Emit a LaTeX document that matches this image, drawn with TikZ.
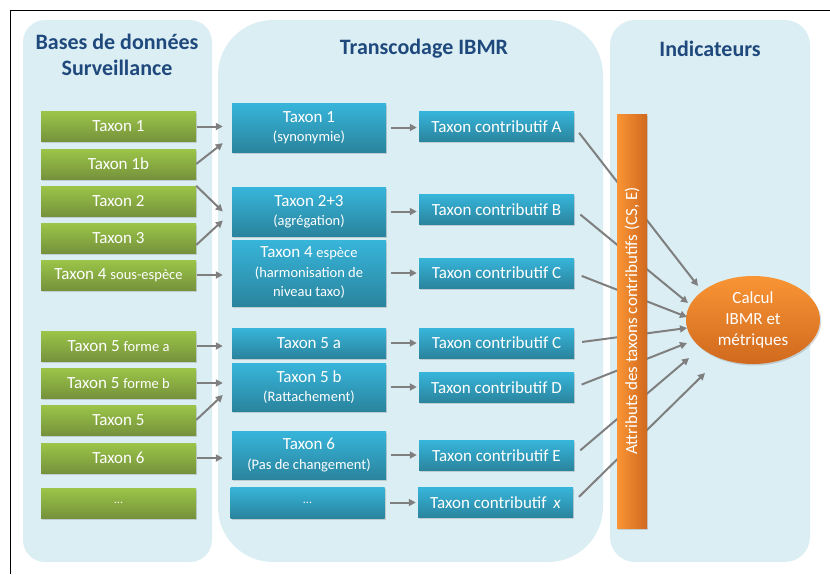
\documentclass[tikz,border=0pt]{standalone}
\usepackage{fontspec}
\setmainfont{Carlito}
\usetikzlibrary{arrows.meta,shadows,calc,shapes.geometric}

\definecolor{fond}{HTML}{DBEEF3}
\definecolor{titrebleu}{HTML}{1F497D}
\definecolor{verthaut}{HTML}{9BC548}
\definecolor{vertbas}{HTML}{76923C}
\definecolor{bleuhaut}{HTML}{37B5DA}
\definecolor{bleubas}{HTML}{2A849E}
\definecolor{orangeclair}{HTML}{F99535}
\definecolor{orangefonce}{HTML}{D0691E}
\definecolor{gris}{HTML}{7F7F7F}

\newcommand{\petit}[1]{{\fontsize{14.5}{16}\selectfont #1}}
\newcommand{\points}{{\fontsize{12}{14}\selectfont ...}}

\begin{document}
\begin{tikzpicture}[x=1pt, y=-1pt,
    panneau/.style={fill=fond, draw=none},
    titre/.style={text=titrebleu, align=center, font=\fontsize{22}{26}\selectfont\bfseries},
    boite/.style={minimum height=30pt, inner sep=0pt, text=white, align=center,
        font=\fontsize{17}{19.5}\selectfont,
        drop shadow={shadow xshift=1.2pt, shadow yshift=-1.5pt, opacity=0.3}},
    vert/.style={boite, top color=verthaut, bottom color=vertbas, minimum width=155pt},
    bleu/.style={boite, top color=bleuhaut, bottom color=bleubas, minimum width=154pt},
    fleche/.style={draw=gris, line width=2pt, -{Triangle[length=7pt,width=7pt]}},
    entree/.style={fleche, shorten <=1pt, shorten >=9pt},
    sortie/.style={fleche, shorten <=5pt, shorten >=2pt},
    ]
    \useasboundingbox (0,0) rectangle (830,574);
    \draw[line width=1pt] (830,10) -- (10,10) -- (10,574);

    % les trois panneaux
    \fill[panneau, rounded corners=22pt] (23,20) rectangle (212,562);
    \fill[panneau, rounded corners=55pt] (218,20) rectangle (603,562);
    \fill[panneau, rounded corners=25pt] (610,20) rectangle (810,562);

    \node[titre] (titrebases) at (117,55) {Bases de données\\Surveillance};
    \node[titre] (titretrans) at (424,49) {Transcodage IBMR};
    \node[titre] (titreind) at (710,49) {Indicateurs};

    % bases de donnees
    \node[vert] (t1) at (118.5,126.5) {Taxon 1};
    \node[vert] (t1b) at (118.5,164) {Taxon 1b};
    \node[vert] (t2) at (118.5,201) {Taxon 2};
    \node[vert] (t3) at (118.5,238) {Taxon 3};
    \node[vert] (t4) at (118.5,275) {Taxon 4 \petit{sous-espèce}};
    \node[vert] (t5a) at (118.5,346) {Taxon 5 \petit{forme a}};
    \node[vert] (t5b) at (118.5,383) {Taxon 5 \petit{forme b}};
    \node[vert] (t5) at (118.5,420) {Taxon 5};
    \node[vert] (t6) at (118.5,458) {Taxon 6};
    \node[vert] (tdots) at (118.5,503) {\points};

    % transcodage
    \node[bleu, minimum height=49pt] (m1) at (309,127.5) {Taxon 1\\\petit{(synonymie)}};
    \node[bleu, minimum height=49pt] (m23) at (309,211.5) {Taxon 2+3\\\petit{(agrégation)}};
    \node[bleu, minimum height=66pt] (m4) at (309,273) {Taxon 4 \petit{espèce}\\\petit{(harmonisation de}\\\petit{niveau taxo)}};
    \node[bleu] (m5a) at (309,343) {Taxon 5 a};
    \node[bleu, minimum height=48pt] (m5b) at (309,387) {Taxon 5 b\\\petit{(Rattachement)}};
    \node[bleu, minimum height=48pt] (m6) at (309,455) {Taxon 6\\\petit{(Pas de changement)}};
    \node[bleu, minimum height=31pt] (mdots) at (307.5,502.5) {\points};

    \node[bleu, minimum width=155pt] (rA) at (496.5,126.5) {Taxon contributif A};
    \node[bleu, minimum width=155pt] (rB) at (496.5,209.5) {Taxon contributif B};
    \node[bleu, minimum width=155pt] (rC1) at (496.5,273) {Taxon contributif C};
    \node[bleu, minimum width=155pt] (rC2) at (496.5,343) {Taxon contributif C};
    \node[bleu, minimum width=155pt] (rD) at (496.5,387.5) {Taxon contributif D};
    \node[bleu, minimum width=155pt] (rE) at (496.5,455.5) {Taxon contributif E};
    \node[bleu, minimum width=155pt] (rx) at (495.5,502.5) {Taxon contributif \,\textit{x}};

    % fleches vers le transcodage
    \draw[entree] (t1.east) -- (t1.east -| m1.west);
    \draw[fleche] (t1b.east) -- ($(m1.south west)+(-9,-9)$);
    \draw[fleche] (t2.north east) -- ($(m23.west)+(-9,0)$);
    \draw[fleche] ($(t3.east)+(0,7)$) -- ($(m23.west)+(-9,9)$);
    \draw[entree] (t4.east) -- (t4.east -| m4.west);
    \draw[entree] (t5a.east) -- (t5a.east -| m5a.west);
    \draw[entree] (t5b.east) -- (t5b.east -| m5b.west);
    \draw[fleche] (t5.east) -- ($(m5b.west)+(-9,8)$);
    \draw[entree] (t6.east) -- (t6.east -| m6.west);

    \draw[sortie] (m1.east) -- (m1.east -| rA.west);
    \draw[sortie] (m23.east) -- (m23.east -| rB.west);
    \draw[sortie] (m4.east) -- (m4.east -| rC1.west);
    \draw[sortie] (m5a.east) -- (m5a.east -| rC2.west);
    \draw[sortie] (m5b.east) -- (m5b.east -| rD.west);
    \draw[sortie] (m6.east) -- (m6.east -| rE.west);
    \draw[sortie] (mdots.east) -- (mdots.east -| rx.west);

    % indicateurs
    \node[ellipse, minimum width=134pt, minimum height=88pt, inner sep=0pt,
        top color=orangeclair, bottom color=orangefonce, text=white, align=center,
        font=\fontsize{17}{21}\selectfont,
        drop shadow={shadow xshift=1.2pt, shadow yshift=-1.5pt, opacity=0.3}]
        (calcul) at (753,320) {Calcul\\IBMR et\\métriques};

    \draw[fleche, shorten <=8pt] (rA.east) -- ($(calcul.center)+(-55,-34)$);
    \draw[fleche, shorten <=8pt] (rB.east) -- ($(calcul.center)+(-65,-17)$);
    \draw[fleche, shorten <=8pt] (rC1.east) -- ($(calcul.center)+(-66,-3)$);
    \draw[fleche, shorten <=8pt] (rC2.east) -- ($(calcul.center)+(-66,8)$);
    \draw[fleche, shorten <=8pt] (rD.east) -- ($(calcul.center)+(-66,23)$);
    \draw[fleche, shorten <=8pt] (rE.east) -- ($(calcul.center)+(-64,38)$);
    \draw[fleche, shorten <=8pt] (rx.east) -- ($(calcul.center)+(-48,53)$);

    \node[rotate=90, minimum width=414pt, minimum height=30pt, inner sep=0pt,
        left color=orangeclair, right color=orangefonce, text=white,
        font=\fontsize{17}{20}\selectfont,
        drop shadow={shadow xshift=1.2pt, shadow yshift=-1.5pt, opacity=0.3}]
        (attributs) at (632,321) {Attributs des taxons contributifs (CS, E)};
\end{tikzpicture}
\end{document}
